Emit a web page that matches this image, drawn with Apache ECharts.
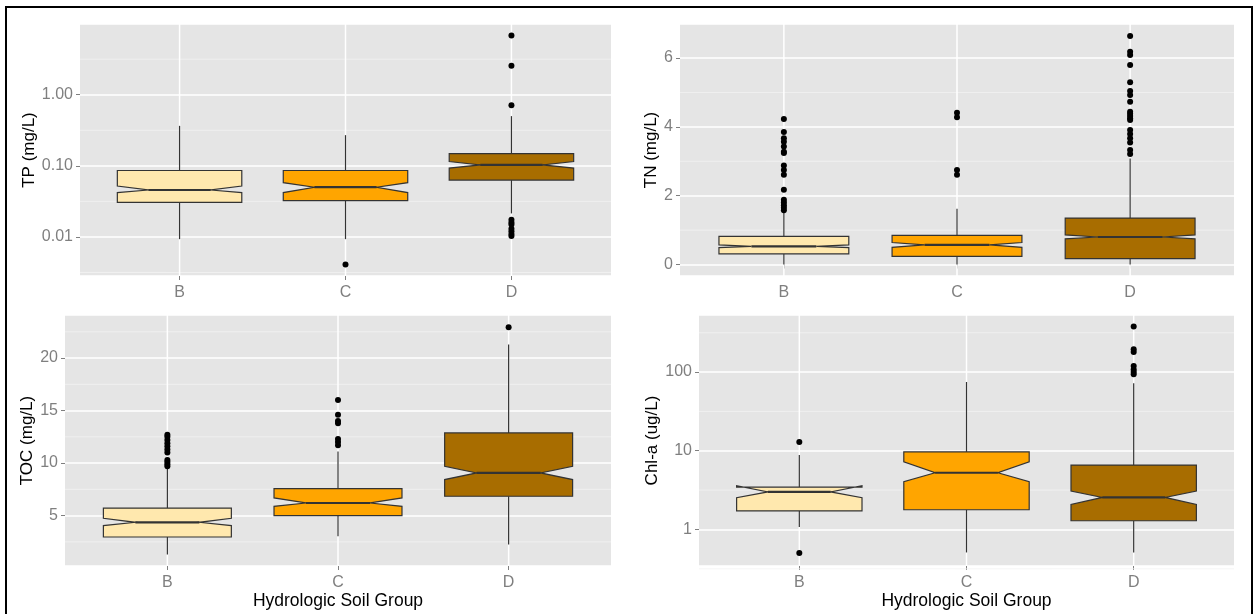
<!DOCTYPE html>
<html>
<head>
<meta charset="utf-8">
<script src="https://cdn.jsdelivr.net/npm/echarts@6/dist/echarts.min.js"></script>
<style>
  html, body { margin: 0; padding: 0; background: #ffffff; }
  #chart { width: 1256px; height: 614px; }
</style>
</head>
<body>
<div id="chart"></div>
<script>
// Hydrologic soil groups and their box fills
const groups = ['B', 'C', 'D'];
const groupFills = ['#FFE8AE', '#FFA500', '#A86D00'];

// Box statistics per group: [lower whisker, Q1, median, Q3, upper whisker]
// Notches per group: [lower notch, upper notch]
const tpStats = [[0.0093, 0.0307, 0.0457, 0.086, 0.365], [0.0093, 0.0323, 0.050, 0.086, 0.27], [0.0214, 0.063, 0.103, 0.148, 0.50]];
const tpNotch = [[0.042, 0.052], [0.042, 0.058], [0.093, 0.115]];
const tpOutliers = [[], [0.0041], [6.8, 2.55, 0.71, 0.0175, 0.016, 0.015, 0.013, 0.012, 0.011, 0.0103]];

const tnStats = [[0, 0.31, 0.53, 0.82, 1.50], [0, 0.24, 0.57, 0.85, 1.62], [0, 0.17, 0.80, 1.35, 3.08]];
const tnNotch = [[0.49, 0.57], [0.50, 0.64], [0.745, 0.86]];
const tnOutliers = [
  [4.23, 3.85, 3.67, 3.57, 3.43, 3.28, 3.24, 2.88, 2.75, 2.61, 2.17, 1.88, 1.80, 1.72, 1.65, 1.58],
  [4.41, 4.28, 2.75, 2.61],
  [6.64, 6.18, 6.09, 5.80, 5.30, 5.04, 4.93, 4.73, 4.44, 4.38, 4.32, 4.25, 4.20, 3.91, 3.79, 3.67, 3.55, 3.33, 3.21]
];

const tocStats = [[1.29, 2.96, 4.36, 5.72, 9.45], [3.03, 5.0, 6.2, 7.57, 11.1], [2.24, 6.84, 9.06, 12.87, 21.3]];
const tocNotch = [[4.05, 4.74], [5.88, 6.68], [8.43, 9.7]];
const tocOutliers = [
  [9.7, 9.9, 10.1, 10.3, 11.0, 11.3, 11.6, 11.9, 12.2, 12.5, 12.7],
  [11.7, 12.0, 12.3, 13.8, 14.0, 14.6, 16.0],
  [22.93]
];

const chlStats = [[1.07, 1.72, 3.0, 3.44, 8.8], [0.51, 1.78, 5.25, 9.66, 74.8], [0.51, 1.29, 2.55, 6.57, 72]];
const chlNotch = [[2.53, 3.6], [4.05, 7.24], [2.08, 3.07]];
const chlOutliers = [[12.9, 0.50], [], [93.5, 100, 108, 119, 180, 195, 380]];

// Axis ranges and minor breaks
const tpRange = [0.00282, 9.88];
const tnRange = [-0.333, 6.99];
const tocRange = [0.2, 24.1];
const chlRange = [0.343, 531];
const tpMinor = [0.00316, 0.0316, 0.316, 3.16];
const tnMinor = [1, 3, 5];
const tocMinor = [2.5, 7.5, 12.5, 17.5, 22.5];
const chlMinor = [0.316, 3.16, 31.6, 316];

const FONT = "'Liberation Sans', Arial, sans-serif";
const GREY_TEXT = '#7F7F7F';
const BG = '#E5E5E5';
const BOX_HALF = 0.375;       // half box width, in category units
const NOTCH_IN = BOX_HALF * 0.5;

const panels = [
  { title: 'TP (mg/L)', grid: { left: 80, top: 24, width: 531, height: 252 }, type: 'log', range: tpRange,
    stats: tpStats, notch: tpNotch, outliers: tpOutliers, minor: tpMinor, nameGap: 42, xTitle: '',
    fmt: v => { const l = Math.log10(v); return Math.abs(l - Math.round(l)) < 1e-6 ? v.toFixed(2) : ''; } },
  { title: 'TN (mg/L)', grid: { left: 680, top: 24, width: 554, height: 252 }, type: 'value', range: tnRange,
    stats: tnStats, notch: tnNotch, outliers: tnOutliers, minor: tnMinor, nameGap: 19, xTitle: '', splitNumber: 4,
    fmt: v => (Math.abs(v / 2 - Math.round(v / 2)) < 1e-6 ? String(Math.round(v)) : '') },
  { title: 'TOC (mg/L)', grid: { left: 65, top: 315, width: 546, height: 251 }, type: 'value', range: tocRange,
    stats: tocStats, notch: tocNotch, outliers: tocOutliers, minor: tocMinor, nameGap: 27, xTitle: 'Hydrologic Soil Group', splitNumber: 5,
    fmt: v => (Math.abs(v / 5 - Math.round(v / 5)) < 1e-6 ? String(Math.round(v)) : '') },
  { title: 'Chl-a (ug/L)', grid: { left: 699, top: 315, width: 535, height: 251 }, type: 'log', range: chlRange,
    stats: chlStats, notch: chlNotch, outliers: chlOutliers, minor: chlMinor, nameGap: 38, xTitle: 'Hydrologic Soil Group',
    fmt: v => { const l = Math.log10(v); return Math.abs(l - Math.round(l)) < 1e-6 ? String(Math.round(v)) : ''; } }
];

function boxRender(params, api) {
  const x = api.value(0);
  const lo = api.value(1), q1 = api.value(2), md = api.value(3), q3 = api.value(4), hi = api.value(5);
  const nl = api.value(6), nh = api.value(7);
  const L = x - BOX_HALF, R = x + BOX_HALF;
  const p = (xx, yy) => api.coord([xx, yy]);
  const fill = groupFills[Math.round(x) - 1];
  const top = p(x, hi), q3p = p(x, q3), q1p = p(x, q1), bot = p(x, lo);
  const poly = [p(L, q3), p(L, nh), p(L + NOTCH_IN, md), p(L, nl), p(L, q1),
                p(R, q1), p(R, nl), p(R - NOTCH_IN, md), p(R, nh), p(R, q3)];
  const mL = p(L + NOTCH_IN, md), mR = p(R - NOTCH_IN, md);
  return {
    type: 'group',
    children: [
      { type: 'line', shape: { x1: top[0], y1: top[1], x2: q3p[0], y2: q3p[1] }, style: { stroke: '#333333', lineWidth: 1.2 } },
      { type: 'line', shape: { x1: q1p[0], y1: q1p[1], x2: bot[0], y2: bot[1] }, style: { stroke: '#333333', lineWidth: 1.2 } },
      { type: 'polygon', shape: { points: poly }, style: { fill: fill, stroke: '#333333', lineWidth: 1.2 } },
      { type: 'line', shape: { x1: mL[0], y1: mL[1], x2: mR[0], y2: mR[1] }, style: { stroke: '#333333', lineWidth: 2.2 } }
    ]
  };
}

const grids = [], xAxes = [], yAxes = [], series = [];
panels.forEach((pn, i) => {
  grids.push(Object.assign({ show: true, backgroundColor: BG, borderWidth: 0, containLabel: false }, pn.grid));
  xAxes.push({
    type: 'value', gridIndex: i, min: 0.4, max: 3.6,
    name: pn.xTitle, nameLocation: 'middle', nameGap: 24,
    nameTextStyle: { fontFamily: FONT, fontSize: 17.5, color: '#000000' },
    axisLine: { show: false },
    axisTick: { show: true, length: 4, customValues: [1, 2, 3], lineStyle: { color: GREY_TEXT, width: 1 } },
    axisLabel: { customValues: [1, 2, 3], margin: 9, fontFamily: FONT, fontSize: 16, color: GREY_TEXT,
                 formatter: v => groups[Math.round(v) - 1] || '' },
    splitLine: { show: false }
  });
  const y = {
    type: pn.type, gridIndex: i, min: pn.range[0], max: pn.range[1],
    name: pn.title, nameLocation: 'middle', nameRotate: 90, nameGap: pn.nameGap,
    nameTextStyle: { fontFamily: FONT, fontSize: 17, color: '#000000' },
    axisLine: { show: false },
    axisTick: { show: true, length: 4, lineStyle: { color: GREY_TEXT, width: 1 } },
    axisLabel: { margin: 7, fontFamily: FONT, fontSize: 16, color: GREY_TEXT, formatter: pn.fmt,
                 showMinLabel: false, showMaxLabel: false },
    splitLine: { show: true, lineStyle: { color: '#FFFFFF', width: 1.5 } }
  };
  if (pn.type === 'log') y.logBase = 10;
  if (pn.splitNumber) y.splitNumber = pn.splitNumber;
  yAxes.push(y);

  // minor horizontal grid lines
  series.push({
    type: 'custom', xAxisIndex: i, yAxisIndex: i, silent: true, z: 1,
    data: pn.minor.map(v => [1, v]),
    encode: { x: 0, y: 1 },
    renderItem: (params, api) => {
      const cs = params.coordSys;
      const yy = api.coord([1, api.value(1)])[1];
      return { type: 'line', shape: { x1: cs.x, y1: yy, x2: cs.x + cs.width, y2: yy },
               style: { stroke: '#F2F2F2', lineWidth: 0.8 } };
    }
  });
  // vertical grid lines at each group
  series.push({
    type: 'custom', xAxisIndex: i, yAxisIndex: i, silent: true, z: 1,
    data: groups.map((g, k) => [k + 1, pn.range[1]]),
    encode: { x: 0, y: 1 },
    renderItem: (params, api) => {
      const cs = params.coordSys;
      const xx = api.coord([api.value(0), pn.range[1]])[0];
      return { type: 'line', shape: { x1: xx, y1: cs.y, x2: xx, y2: cs.y + cs.height },
               style: { stroke: '#FFFFFF', lineWidth: 1.5 } };
    }
  });
  // notched boxes
  series.push({
    type: 'custom', xAxisIndex: i, yAxisIndex: i, z: 3,
    data: pn.stats.map((s, k) => [k + 1, s[0], s[1], s[2], s[3], s[4], pn.notch[k][0], pn.notch[k][1]]),
    encode: { x: 0, y: [1, 2, 3, 4, 5] },
    renderItem: boxRender
  });
  // outliers
  const pts = [];
  pn.outliers.forEach((arr, k) => arr.forEach(v => pts.push([k + 1, v])));
  series.push({
    type: 'scatter', xAxisIndex: i, yAxisIndex: i, z: 4,
    symbol: 'circle', symbolSize: 6,
    itemStyle: { color: '#000000', opacity: 1 },
    data: pts
  });
});

const chart = echarts.init(document.getElementById('chart'), null, { renderer: 'canvas' });
chart.setOption({
  animation: false,
  backgroundColor: '#FFFFFF',
  grid: grids,
  xAxis: xAxes,
  yAxis: yAxes,
  series: series,
  graphic: [{
    type: 'rect', silent: true, z: 100,
    shape: { x: 6, y: 7, width: 1246, height: 640 },
    style: { fill: 'none', stroke: '#000000', lineWidth: 2 }
  }]
});
</script>
</body>
</html>
